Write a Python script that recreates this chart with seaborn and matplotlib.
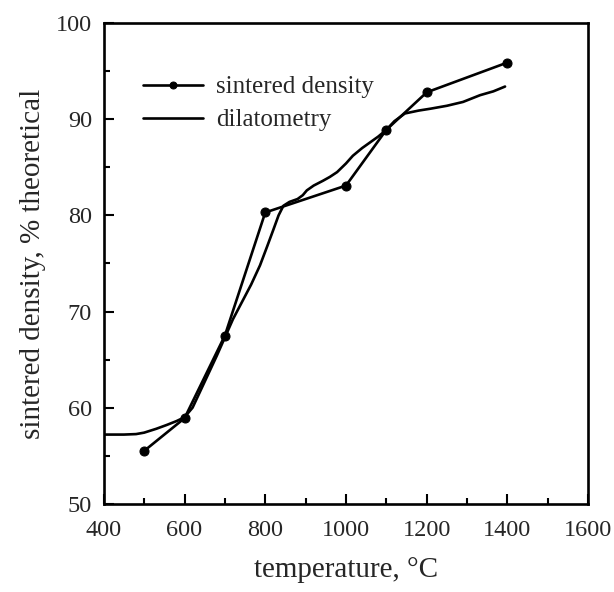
import matplotlib
matplotlib.use("Agg")
import matplotlib.pyplot as plt
from matplotlib.ticker import MultipleLocator
import seaborn as sns
import pandas as pd

# Sintered density measured on fired pellets
sinter_temp = [500, 600, 700, 800, 1000, 1100, 1200, 1400]
sinter_density = [55.5, 58.9, 67.5, 80.3, 83.1, 88.9, 92.8, 95.9]

# Density derived from the dilatometry trace
dil_temp = [400, 450, 480, 500, 530, 556, 580, 600, 620, 640, 660, 680, 700, 720,
            745, 765, 787, 805, 820, 833, 845, 860, 880, 893, 903, 920, 943, 960,
            978, 1000, 1017, 1040, 1060, 1080, 1100, 1120, 1146, 1180, 1210, 1250,
            1290, 1332, 1365, 1394]
dil_density = [57.2, 57.2, 57.25, 57.4, 57.8, 58.2, 58.6, 59.0, 60.0, 61.8, 63.6,
               65.4, 67.3, 69.2, 71.2, 72.8, 74.8, 76.8, 78.5, 80.0, 81.0, 81.4,
               81.7, 82.1, 82.6, 83.1, 83.6, 84.0, 84.5, 85.4, 86.2, 87.0, 87.6,
               88.2, 88.9, 89.8, 90.6, 90.9, 91.1, 91.4, 91.8, 92.5, 92.9, 93.4]

sinter_df = pd.DataFrame({"temperature": sinter_temp, "density": sinter_density})
dil_df = pd.DataFrame({"temperature": dil_temp, "density": dil_density})

sns.set_theme(style="ticks")
plt.rcParams["font.family"] = ["Liberation Serif", "DejaVu Serif"]

fig = plt.figure(figsize=(6.14, 5.92), dpi=100)
ax = fig.add_axes([0.169, 0.149, 0.789, 0.812])

sns.lineplot(data=sinter_df, x="temperature", y="density", ax=ax, sort=False,
             color="black", lw=1.9, marker="o", markersize=6.5,
             markeredgecolor="black", label="sintered density")
sns.lineplot(data=dil_df, x="temperature", y="density", ax=ax, sort=False,
             color="black", lw=1.9, label="dilatometry")

ax.set_xlim(400, 1600)
ax.set_ylim(50, 100)
ax.xaxis.set_major_locator(MultipleLocator(200))
ax.xaxis.set_minor_locator(MultipleLocator(100))
ax.yaxis.set_major_locator(MultipleLocator(10))
ax.yaxis.set_minor_locator(MultipleLocator(5))
ax.tick_params(which="both", direction="in", top=False, right=False,
               labelsize=17.5, color="black", width=1.5)
ax.tick_params(axis="x", which="major", length=7, pad=12)
ax.tick_params(axis="y", which="major", length=7, pad=8.5)
ax.tick_params(which="minor", length=4)
for s in ax.spines.values():
    s.set_linewidth(1.9)
    s.set_color("black")

ax.set_xlabel("temperature, \u00b0C", fontsize=21, labelpad=11)
ax.set_ylabel("sintered density, % theoretical", fontsize=21, labelpad=7)

leg = ax.legend(loc="upper left", bbox_to_anchor=(0.08, 0.89), frameon=False,
                borderpad=0, borderaxespad=0, fontsize=18, handlelength=2.4,
                handletextpad=0.55, labelspacing=0.42)
for line in leg.get_lines():
    line.set_markersize(5)

fig.savefig("out.png", dpi=100)
